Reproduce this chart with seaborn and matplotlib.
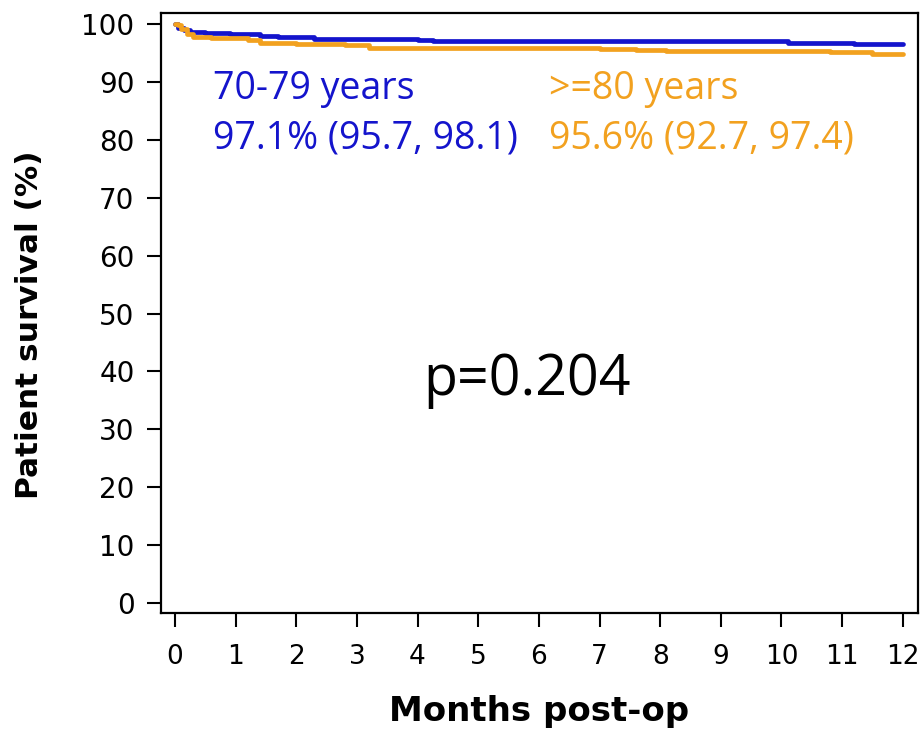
import matplotlib
matplotlib.use("Agg")
import matplotlib.pyplot as plt
import seaborn as sns
import pandas as pd

# Kaplan-Meier step values (months, survival %)
months_7079 = [0, 0.05, 0.15, 0.25, 0.5, 0.9, 1.4, 1.7, 2.3, 4.0, 4.25, 5.1, 10.1, 11.2, 12.0]
surv_7079 = [100, 99.3, 99.0, 98.7, 98.4, 98.2, 98.0, 97.7, 97.4, 97.2, 97.1, 97.0, 96.8, 96.5, 96.5]
months_80 = [0, 0.05, 0.1, 0.2, 0.3, 0.6, 1.2, 1.4, 2.0, 2.8, 3.2, 7.0, 7.6, 8.1, 10.8, 11.5, 12.0]
surv_80 = [100, 99.8, 99.2, 98.2, 97.8, 97.5, 97.2, 96.8, 96.5, 96.3, 95.9, 95.7, 95.5, 95.3, 95.1, 94.8, 94.8]

groups = ["70-79 years", ">=80 years"]
summaries = ["97.1% (95.7, 98.1)", "95.6% (92.7, 97.4)"]
p_text = "p=0.204"
x_ticks = list(range(0, 13))
y_ticks = list(range(0, 101, 10))

blue = "#1414CC"
orange = "#F2A11F"

df = pd.concat([
    pd.DataFrame({"month": months_7079, "surv": surv_7079, "group": groups[0]}),
    pd.DataFrame({"month": months_80, "surv": surv_80, "group": groups[1]}),
])

sns.set_theme(style="white")
plt.rcParams["font.family"] = ["DejaVu Sans"]
plt.rcParams["text.color"] = "black"
plt.rcParams["axes.labelcolor"] = "black"
plt.rcParams["xtick.color"] = "black"
plt.rcParams["ytick.color"] = "black"

fig = plt.figure(figsize=(9.21, 7.29), dpi=100)
ax = fig.add_axes([0.1748, 0.1591, 0.8219, 0.8231])

sns.lineplot(data=df, x="month", y="surv", hue="group", palette=[blue, orange],
             drawstyle="steps-post", linewidth=3.4, legend=False, ax=ax,
             estimator=None, sort=False)

ax.set_xlim(-0.23, 12.25)
ax.set_ylim(-1.7, 101.9)
ax.set_xticks(x_ticks)
ax.set_yticks(y_ticks)
ax.tick_params(axis="both", direction="out", length=10, width=1.5, color="black",
               labelcolor="black", left=True, bottom=True)
ax.tick_params(axis="y", labelsize=20, pad=9)
ax.tick_params(axis="x", labelsize=19, pad=12)
for s in ax.spines.values():
    s.set_visible(True)
    s.set_color("black")
    s.set_linewidth(1.6)

ax.set_xlabel("Months post-op", fontsize=24.5, fontweight="bold", labelpad=18)
ax.set_ylabel("Patient survival (%)", fontsize=22.5, fontweight="bold")
ax.yaxis.set_label_coords(-0.155, 0.48)

tf = ["Open Sans", "DejaVu Sans"]
ax.text(0.63, 88.8, groups[0], color=blue, fontsize=27, family=tf, va="center")
ax.text(0.63, 80.2, summaries[0], color=blue, fontsize=27, family=tf, va="center")
ax.text(6.16, 88.8, groups[1], color=orange, fontsize=27, family=tf, va="center")
ax.text(6.16, 80.2, summaries[1], color=orange, fontsize=27, family=tf, va="center")
ax.text(5.8, 38.5, p_text, color="black", fontsize=40, family=tf, ha="center", va="center")

fig.savefig("out.png", dpi=100)
